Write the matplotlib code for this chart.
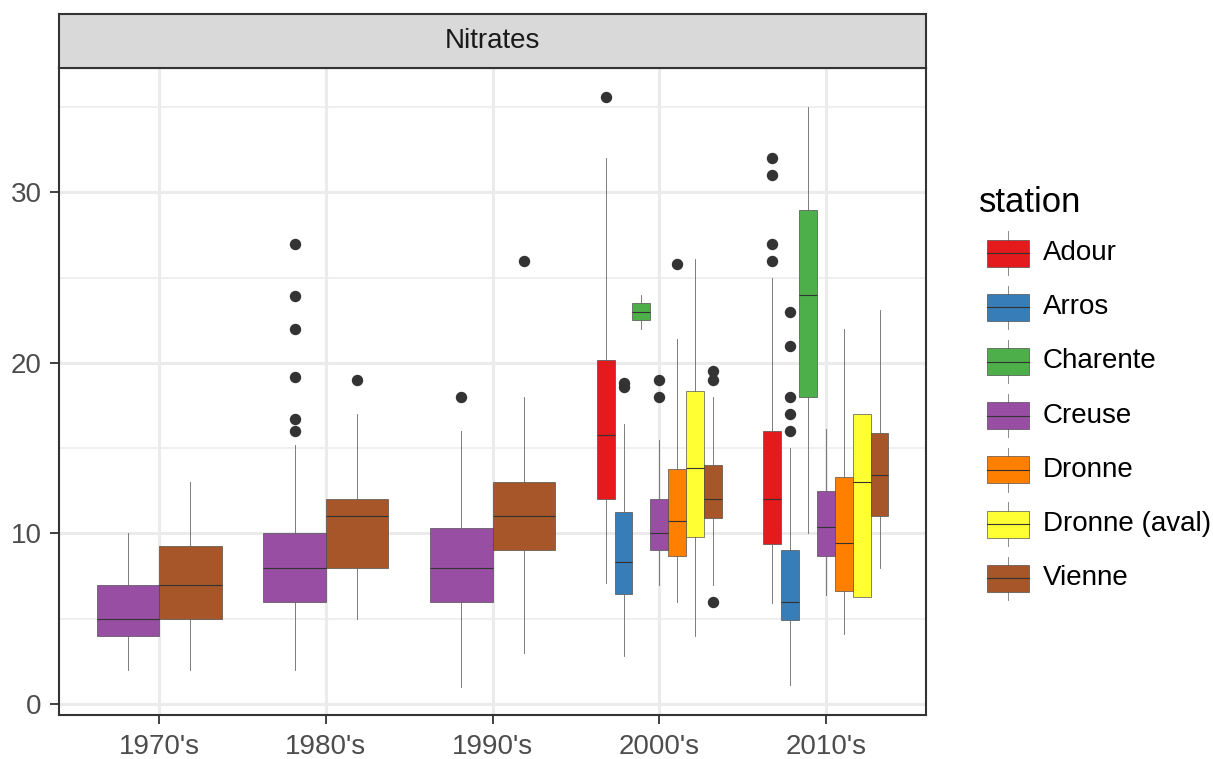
import matplotlib
matplotlib.use("Agg")
import matplotlib.pyplot as plt
from matplotlib.patches import Rectangle

plt.rcParams['font.family'] = ['Liberation Sans', 'DejaVu Sans']

decades = ["1970's", "1980's", "1990's", "2000's", "2010's"]
stations = ["Adour", "Arros", "Charente", "Creuse", "Dronne", "Dronne (aval)", "Vienne"]
colors = ["#E41A1C", "#377EB8", "#4DAF4A", "#984EA3", "#FF7F00", "#FFFF33", "#A65628"]

# (whislo, q1, median, q3, whishi) per decade; None = no data
adour = [None, None, None, (7.1, 12.0, 15.8, 20.2, 32.0), (5.9, 9.4, 12.0, 16.0, 25.0)]
adour_out = [[], [], [], [35.6], [26, 27, 31, 32]]
arros = [None, None, None, (2.8, 6.45, 8.35, 11.25, 16.4), (1.1, 4.9, 6.0, 9.0, 15.0)]
arros_out = [[], [], [], [18.6, 18.8], [16, 17, 18, 21, 23]]
charente = [None, None, None, (22.0, 22.5, 23.0, 23.5, 24.0), (10.0, 18.0, 24.0, 29.0, 35.0)]
charente_out = [[], [], [], [], []]
creuse = [(2.0, 4.0, 5.0, 7.0, 10.0), (2.0, 6.0, 8.0, 10.0, 15.2), (1.0, 6.0, 8.0, 10.33, 16.0),
          (7.0, 9.0, 10.0, 12.0, 15.5), (6.4, 8.7, 10.4, 12.5, 16.1)]
creuse_out = [[], [16, 16.7, 19.2, 22, 23.9, 27], [18], [18, 19], []]
dronne = [None, None, None, (6.0, 8.67, 10.7, 13.8, 21.4), (4.1, 6.6, 9.46, 13.3, 22.0)]
dronne_out = [[], [], [], [25.8], []]
dronne_aval = [None, None, None, (4.0, 9.8, 13.86, 18.36, 26.1), (6.3, 6.3, 13.0, 17.0, 17.0)]
dronne_aval_out = [[], [], [], [], []]
vienne = [(2.0, 5.0, 7.0, 9.28, 13.0), (5.0, 8.0, 11.0, 12.0, 17.0), (3.0, 9.0, 11.0, 13.0, 18.0),
          (7.0, 10.9, 12.0, 14.0, 18.0), (8.0, 11.0, 13.45, 15.9, 23.1)]
vienne_out = [[], [19], [26], [6, 19, 19.5], []]

all_stats = [adour, arros, charente, creuse, dronne, dronne_aval, vienne]
all_out = [adour_out, arros_out, charente_out, creuse_out, dronne_out, dronne_aval_out, vienne_out]

W, H = 1213, 759
fig = plt.figure(figsize=(W / 100, H / 100), dpi=100)

pl, pr, pt, pb = 59, 926, 68, 715
ax = fig.add_axes([pl / W, 1 - pb / H, (pr - pl) / W, (pb - pt) / H])
ax.set_xlim(-0.6, 4.6)
ax.set_ylim(-0.65, 37.3)

# grid
grid_c = "#EBEBEB"
for v in [5, 15, 25, 35]:
    ax.axhline(v, color=grid_c, lw=1.1, zorder=0)
for v in [0, 10, 20, 30]:
    ax.axhline(v, color=grid_c, lw=2.2, zorder=0)
for i in range(len(decades)):
    ax.axvline(i, color=grid_c, lw=2.2, zorder=0)

total_w = 0.75
for d in range(len(decades)):
    present = [s for s in range(len(stations)) if all_stats[s][d] is not None]
    n = len(present)
    w = total_w / n
    for k, s in enumerate(present):
        lo, q1, med, q3, hi = all_stats[s][d]
        pos = d - total_w / 2 + w * (k + 0.5)
        st = dict(whislo=lo, q1=q1, med=med, q3=q3, whishi=hi, fliers=all_out[s][d])
        ax.bxp([st], positions=[pos], widths=[w], patch_artist=True, showcaps=False,
               boxprops=dict(facecolor=colors[s], edgecolor="#444444", linewidth=0.45),
               medianprops=dict(color="#333333", linewidth=0.8),
               whiskerprops=dict(color="#666666", linewidth=0.6),
               flierprops=dict(marker='o', markerfacecolor="#333333", markeredgecolor="#333333",
                               markersize=7.2, linestyle='none'),
               manage_ticks=False, zorder=3)

ax.set_xticks(range(len(decades)))
ax.set_xticklabels(decades)
ax.set_yticks([0, 10, 20, 30])
ax.tick_params(axis='both', labelsize=20, labelcolor="#4D4D4D", color="#333333",
               length=6.5, width=1.3)
ax.tick_params(axis='x', pad=7)
ax.tick_params(axis='y', pad=6)
for sp in ax.spines.values():
    sp.set_color("#333333")
    sp.set_linewidth(1.5)

# strip
sax = fig.add_axes([pl / W, 1 - pt / H, (pr - pl) / W, (pt - 14) / H])
sax.set_facecolor("#D9D9D9")
sax.set_xticks([])
sax.set_yticks([])
for sp in sax.spines.values():
    sp.set_color("#333333")
    sp.set_linewidth(1.5)
sax.text(0.5, 0.5, "Nitrates", ha='center', va='center', fontsize=20, color="#1A1A1A",
         transform=sax.transAxes)

# legend (pixel coords overlay)
lax = fig.add_axes([0, 0, 1, 1])
lax.set_xlim(0, W)
lax.set_ylim(H, 0)
lax.axis('off')
lax.patch.set_alpha(0)
lax.text(979, 202, "station", fontsize=25, ha='left', va='center', color='black')
kx0, kw = 987, 42
cell = 54.2
y0 = 226
for i, (name, c) in enumerate(zip(stations, colors)):
    top = y0 + i * cell
    mid = top + cell / 2
    kx = kx0 + kw / 2
    lax.plot([kx, kx], [top + 0.1 * cell, top + 0.9 * cell], color="#777777", lw=0.6)
    lax.add_patch(Rectangle((kx0, top + 0.25 * cell), kw, 0.5 * cell, facecolor=c,
                            edgecolor="#444444", lw=0.45, zorder=3))
    lax.plot([kx0, kx0 + kw], [mid, mid], color="#333333", lw=0.8, zorder=4)
    lax.text(1043, mid, name, fontsize=20, ha='left', va='center', color='black')

fig.savefig("out.png", dpi=100)
